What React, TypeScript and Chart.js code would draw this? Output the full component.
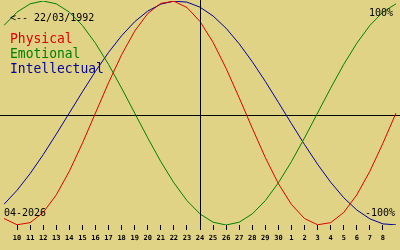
import React, { useEffect, useRef } from "react";
import { Chart, registerables } from "chart.js";

Chart.register(...registerables);

// Day-of-month labels: 9 Apr .. 9 May 2026
const DAYS = [
  "9", "10", "11", "12", "13", "14", "15", "16", "17", "18", "19", "20", "21", "22", "23",
  "24", "25", "26", "27", "28", "29", "30", "1", "2", "3", "4", "5", "6", "7", "8", "9",
];

// Biorhythm values (percent)
const PHYSICAL = [
  -94.2, -99.8, -97.9, -88.8, -73.1, -52.0, -27.0, 0, 27.0, 52.0, 73.1, 88.8, 97.9, 99.8, 94.2,
  81.7, 63.1, 39.8, 13.6, -13.6, -39.8, -63.1, -81.7, -94.2, -99.8, -97.9, -88.8, -73.1, -52.0, -27.0, 0,
];
const EMOTIONAL = [
  78.2, 90.1, 97.5, 100, 97.5, 90.1, 78.2, 62.3, 43.4, 22.2, 0, -22.2, -43.4, -62.3, -78.2,
  -90.1, -97.5, -100, -97.5, -90.1, -78.2, -62.3, -43.4, -22.2, 0, 22.2, 43.4, 62.3, 78.2, 90.1, 97.5,
];
const INTELLECTUAL = [
  -81.5, -69.0, -54.1, -37.2, -18.9, 0, 18.9, 37.2, 54.1, 69.0, 81.5, 91.0, 97.2, 99.9, 99.0,
  94.5, 86.6, 75.6, 61.8, 45.8, 28.2, 9.5, -9.5, -28.2, -45.8, -61.8, -75.6, -86.6, -94.5, -99.0, -99.9,
];

const SERIES_NAMES = ["Physical", "Emotional", "Intellectual"];
const TODAY_INDEX = 15;
const BIRTH_LABEL = "<-- 22/03/1992";
const MONTH_LABEL = "04-2026";
const TOP_LABEL = "100%";
const BOTTOM_LABEL = "-100%";

const BG = "#e0d386";
const COLORS = ["#dd0000", "#008000", "#00009a"];
const MONO = "'DejaVu Sans Mono', monospace";

const overlay = {
  id: "overlay",
  beforeDatasetsDraw(chart: any) {
    const { ctx, scales } = chart;
    const y = Math.round(scales.y.getPixelForValue(0)) + 2 + 0.5;
    ctx.save();
    ctx.strokeStyle = "#000";
    ctx.lineWidth = 1;
    ctx.beginPath();
    ctx.moveTo(0, y);
    ctx.lineTo(chart.width, y);
    ctx.stroke();
    ctx.restore();
  },
  afterDatasetsDraw(chart: any) {
    const { ctx, scales, chartArea } = chart;
    const x = Math.round(scales.x.getPixelForValue(TODAY_INDEX)) + 0.5;
    ctx.save();
    ctx.strokeStyle = "#000";
    ctx.lineWidth = 1;
    ctx.beginPath();
    ctx.moveTo(x, 0);
    ctx.lineTo(x, chartArea.bottom + 5);
    ctx.stroke();

    ctx.textBaseline = "alphabetic";
    ctx.textAlign = "left";
    ctx.fillStyle = "#000";
    ctx.font = `10px ${MONO}`;
    ctx.fillText(BIRTH_LABEL, 10, 21);
    ctx.fillText(TOP_LABEL, 369, 16);
    ctx.fillText(MONTH_LABEL, 4, 216);
    ctx.fillText(BOTTOM_LABEL, 365, 216);

    ctx.font = `13px ${MONO}`;
    SERIES_NAMES.forEach((name, i) => {
      ctx.fillStyle = COLORS[i];
      ctx.save();
      ctx.translate(10, 43 + i * 15);
      ctx.scale(1, 1.12);
      ctx.fillText(name, 0, 0);
      ctx.restore();
    });
    ctx.restore();
  },
};

export default function App() {
  const ref = useRef<HTMLCanvasElement | null>(null);

  useEffect(() => {
    document.body.style.margin = "0";
    const canvas = ref.current;
    if (!canvas) return;
    const last = DAYS.length - 1;
    const chart = new Chart(canvas, {
      type: "line",
      data: {
        labels: DAYS,
        datasets: [PHYSICAL, EMOTIONAL, INTELLECTUAL].map((d, i) => ({
          label: SERIES_NAMES[i],
          data: d,
          borderColor: COLORS[i],
          borderWidth: 1,
          pointRadius: 0,
          tension: 0,
          fill: false,
        })),
      },
      options: {
        animation: false,
        responsive: false,
        devicePixelRatio: 1,
        layout: { padding: { top: 1, left: 0, right: 0, bottom: 0 } },
        plugins: {
          legend: { display: false },
          tooltip: { enabled: false },
          title: { display: false },
        },
        scales: {
          x: {
            type: "category",
            offset: false,
            border: { display: false },
            grid: {
              drawOnChartArea: false,
              drawTicks: true,
              tickLength: 5,
              lineWidth: 1,
              color: (c: any) => (c.index === 0 || c.index === last ? "rgba(0,0,0,0)" : "#000"),
            },
            ticks: {
              autoSkip: false,
              maxRotation: 0,
              minRotation: 0,
              padding: 4,
              color: "#000",
              font: { family: MONO, size: 7, weight: "bold" },
              callback: (_v: any, i: number) => (i === 0 || i === last ? "" : DAYS[i]),
            },
            afterFit: (s: any) => {
              s.height = 25;
            },
          },
          y: {
            display: false,
            min: -100,
            max: 100,
          },
        },
      },
      plugins: [overlay],
    } as any);
    return () => chart.destroy();
  }, []);

  return (
    <div style={{ width: 400, height: 250, background: BG }}>
      <canvas ref={ref} width={400} height={250} style={{ display: "block" }} />
    </div>
  );
}
